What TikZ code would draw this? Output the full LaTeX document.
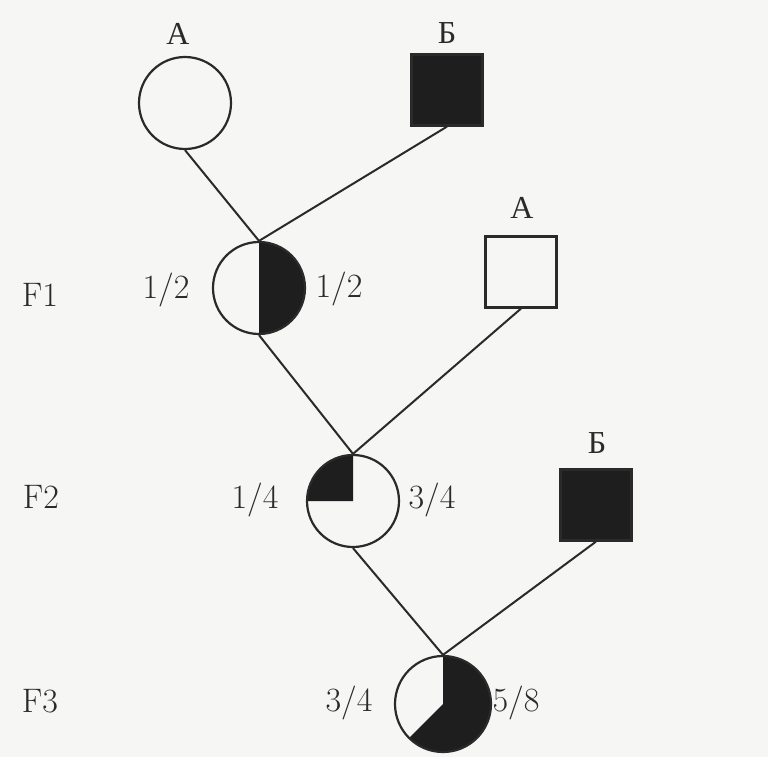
\documentclass[tikz,border=0pt]{standalone}
\usepackage{fontspec}
\newfontfamily\cyrfont{Liberation Serif}
\definecolor{ink}{HTML}{2A2A2A}
\definecolor{dark}{HTML}{1E1E1E}
\definecolor{paper}{HTML}{F6F6F4}
\begin{document}
\begin{tikzpicture}[x=1pt,y=-1pt,
  person/.style={draw=ink,line width=2.2pt,inner sep=0pt,minimum size=#1},
  fem/.style={person=92pt,circle},
  male/.style={person=71pt,rectangle},
  affected/.style={fill=dark},
  link/.style={draw=ink,line width=2pt},
  lbl/.style={text=ink,font=\fontsize{34}{40}\selectfont,inner sep=0pt},
  cyr/.style={text=ink,font=\cyrfont\fontsize{32}{38}\selectfont,inner sep=0pt}]
\useasboundingbox[fill=paper] (0,0) rectangle (768,757);
% centres
\coordinate (cP) at (185,103);
\coordinate (cF1) at (259,288);
\coordinate (cF2) at (353,501);
\coordinate (cF3) at (443,704);
% partial fills (canvas units, y up)
\fill[dark] (cF1) -- ++(0pt,46pt) arc[start angle=90,end angle=-90,radius=46pt] -- cycle;
\fill[dark] (cF2) -- ++(0pt,46pt) arc[start angle=90,end angle=180,radius=46pt] -- cycle;
\fill[dark] (cF3) -- ++(0pt,48pt) arc[start angle=90,end angle=-135,radius=48pt] -- cycle;
% persons
\node[fem] (pA) at (cP) {};
\node[male,affected] (pB) at (447,90) {};
\node[fem] (f1) at (cF1) {};
\node[male] (f1A) at (521,272) {};
\node[fem] (f2) at (cF2) {};
\node[male,affected] (f2B) at (596,505) {};
\node[fem,minimum size=96pt] (f3) at (cF3) {};
% connectors
\draw[link] (pA.south) -- (f1.north);
\draw[link] (pB.south) -- (f1.north);
\draw[link] (f1.south) -- (f2.north);
\draw[link] (f1A.south) -- (f2.north);
\draw[link] (f2.south) -- (f3.north);
\draw[link] (f2B.south) -- (f3.north);
% labels
\node[cyr] (tA) at (178,34) {А};
\node[cyr] (tB) at (447,33) {Б};
\node[cyr] (tA2) at (522,208) {А};
\node[cyr] (tB2) at (597,443) {Б};
\node[lbl] (gF1) at (40,295) {F1};
\node[lbl] (gF2) at (41,497) {F2};
\node[lbl] (gF3) at (40,701) {F3};
\node[lbl] (r1a) at (166,290) {1/2};
\node[lbl] (r1b) at (339,289) {1/2};
\node[lbl] (r2a) at (255,500) {1/4};
\node[lbl] (r2b) at (432,500) {3/4};
\node[lbl] (r3a) at (349,703) {3/4};
\node[lbl] (r3b) at (516,703) {5/8};
\end{tikzpicture}
\end{document}
